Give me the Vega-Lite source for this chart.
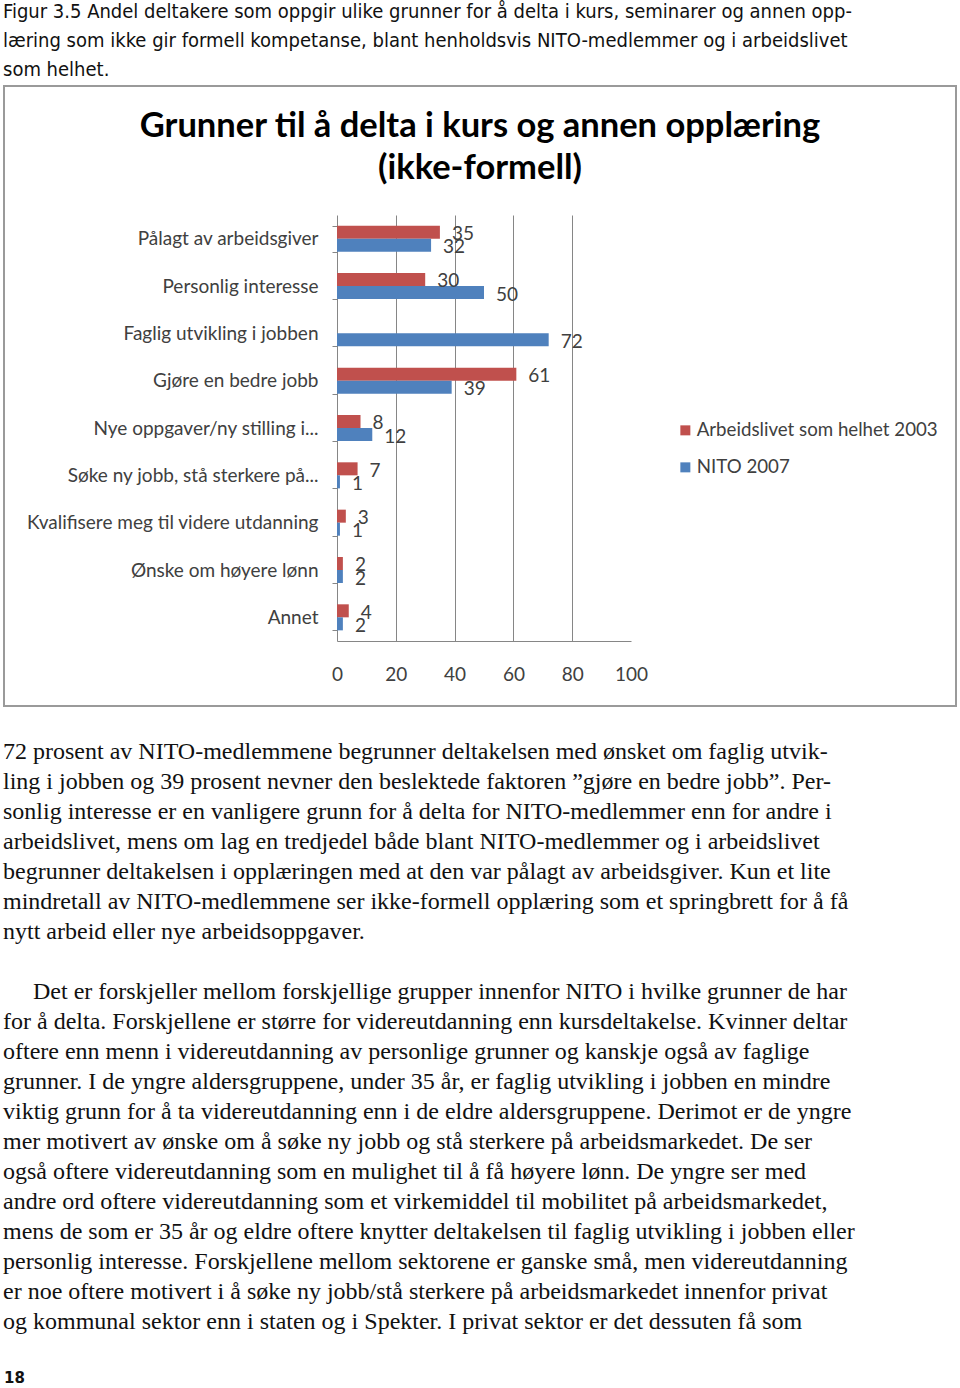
{
  "$schema": "https://vega.github.io/schema/vega-lite/v6.json",
  "padding": 0,
  "background": "white",
  "spacing": 0,
  "center": true,
  "bounds": "flush",
  "config": {"view": {"stroke": null}},
  "vconcat": [
    {
      "width": 960,
      "height": 86,
      "data": {"values": [
        {"line": 1, "text": "Figur 3.5 Andel deltakere som oppgir ulike grunner for å delta i kurs, seminarer og annen opp-"},
        {"line": 2, "text": "læring som ikke gir formell kompetanse, blant henholdsvis NITO-medlemmer og i arbeidslivet"},
        {"line": 3, "text": "som helhet."}
      ]},
      "mark": {"type": "text", "align": "left", "baseline": "alphabetic", "font": "DejaVu Sans Condensed", "fontSize": 20, "dx": 3, "color": "#111111"},
      "encoding": {
        "x": {"datum": 0, "type": "quantitative", "scale": {"domain": [0, 1], "nice": false}, "axis": null},
        "y": {"field": "line", "type": "quantitative", "scale": {"domain": [0.362, 3.328], "nice": false, "zero": false, "reverse": true}, "axis": null},
        "text": {"field": "text"}
      }
    },
    {
      "width": 952,
      "height": 620,
      "view": {"stroke": "#9a9a9a", "strokeWidth": 2, "fill": "white"},
      "title": {
        "text": ["Grunner til å delta i kurs og annen opplæring", "(ikke-formell)"],
        "font": "Lato",
        "fontSize": 34.5,
        "fontWeight": "bold",
        "color": "#000000",
        "anchor": "middle",
        "frame": "group",
        "lineHeight": 42,
        "offset": -109
      },
      "resolve": {"axis": {"x": "independent"}},
      "data": {"values": [
        {"grunn": "Pålagt av arbeidsgiver", "serie": "Arbeidslivet som helhet 2003", "verdi": 35},
        {"grunn": "Pålagt av arbeidsgiver", "serie": "NITO 2007", "verdi": 32},
        {"grunn": "Personlig interesse", "serie": "Arbeidslivet som helhet 2003", "verdi": 30},
        {"grunn": "Personlig interesse", "serie": "NITO 2007", "verdi": 50},
        {"grunn": "Faglig utvikling i jobben", "serie": "NITO 2007", "verdi": 72},
        {"grunn": "Gjøre en  bedre jobb", "serie": "Arbeidslivet som helhet 2003", "verdi": 61},
        {"grunn": "Gjøre en  bedre jobb", "serie": "NITO 2007", "verdi": 39},
        {"grunn": "Nye oppgaver/ny stilling i...", "serie": "Arbeidslivet som helhet 2003", "verdi": 8},
        {"grunn": "Nye oppgaver/ny stilling i...", "serie": "NITO 2007", "verdi": 12},
        {"grunn": "Søke ny jobb, stå sterkere på...", "serie": "Arbeidslivet som helhet 2003", "verdi": 7},
        {"grunn": "Søke ny jobb, stå sterkere på...", "serie": "NITO 2007", "verdi": 1},
        {"grunn": "Kvalifisere meg til videre utdanning", "serie": "Arbeidslivet som helhet 2003", "verdi": 3},
        {"grunn": "Kvalifisere meg til videre utdanning", "serie": "NITO 2007", "verdi": 1},
        {"grunn": "Ønske om høyere lønn", "serie": "Arbeidslivet som helhet 2003", "verdi": 2},
        {"grunn": "Ønske om høyere lønn", "serie": "NITO 2007", "verdi": 2},
        {"grunn": "Annet", "serie": "Arbeidslivet som helhet 2003", "verdi": 4},
        {"grunn": "Annet", "serie": "NITO 2007", "verdi": 2}
      ]},
      "encoding": {
        "y": {
          "field": "grunn", "type": "nominal", "sort": null,
          "scale": {"range": [129, 555], "paddingInner": 0.45, "paddingOuter": 0.225},
          "axis": {
            "title": null, "offset": -333, "tickBand": "extent", "tickSize": 5, "tickColor": "#868686",
            "domainColor": "#868686", "labelPadding": 14, "labelFont": "Lato", "labelFontSize": 19,
            "labelColor": "#404040", "labelLimit": 0, "grid": false
          }
        },
        "yOffset": {"field": "serie", "type": "nominal", "scale": {"domain": ["Arbeidslivet som helhet 2003", "NITO 2007"]}}
      },
      "layer": [
        {
          "mark": {"type": "bar"},
          "encoding": {
            "x": {
              "field": "verdi", "type": "quantitative",
              "scale": {"domain": [0, 100], "range": [333, 627], "nice": false},
              "axis": {
                "orient": "bottom", "title": null, "offset": -65, "values": [0, 20, 40, 60, 80, 100], "ticks": false, "tickSize": 0,
                "domainColor": "#868686", "labelPadding": 24, "labelFont": "Lato", "labelFontSize": 19,
                "labelColor": "#404040", "labelFlush": false, "labelOverlap": false, "grid": false
              }
            },
            "color": {
              "field": "serie", "type": "nominal",
              "scale": {"domain": ["Arbeidslivet som helhet 2003", "NITO 2007"], "range": ["#C0504D", "#4F81BD"]},
              "legend": {
                "title": null, "orient": "none", "legendX": 676, "legendY": 421, "padding": 0,
                "symbolType": "square", "symbolSize": 100, "symbolStrokeWidth": 0,
                "labelFont": "Lato", "labelFontSize": 18.7, "labelColor": "#404040",
                "labelOffset": 2, "rowPadding": 17, "labelLimit": 0
              }
            }
          }
        },
        {
          "mark": {"type": "text", "align": "left", "baseline": "middle", "dx": 12, "dy": 2, "font": "Lato", "fontSize": 19, "color": "#404040"},
          "encoding": {
            "x": {
              "field": "verdi", "type": "quantitative",
              "scale": {"domain": [0, 100], "range": [333, 627], "nice": false},
              "axis": {
                "orient": "top", "title": null, "values": [20, 40, 60, 80], "labels": false, "ticks": false,
                "domain": false, "grid": true, "gridColor": "#868686", "gridWidth": 1
              }
            },
            "text": {"field": "verdi", "type": "quantitative"}
          }
        }
      ]
    },
    {
      "width": 960,
      "height": 682,
      "data": {"values": [
        {"line": 1, "text": "72 prosent av NITO-medlemmene begrunner deltakelsen med ønsket om faglig utvik-"},
        {"line": 2, "text": "ling i jobben og 39 prosent nevner den beslektede faktoren ”gjøre en bedre jobb”. Per-"},
        {"line": 3, "text": "sonlig interesse er en vanligere grunn for å delta for NITO-medlemmer enn for andre i"},
        {"line": 4, "text": "arbeidslivet, mens om lag en tredjedel både blant NITO-medlemmer og i arbeidslivet"},
        {"line": 5, "text": "begrunner deltakelsen i opplæringen med at den var pålagt av arbeidsgiver. Kun et lite"},
        {"line": 6, "text": "mindretall av NITO-medlemmene ser ikke-formell opplæring som et springbrett for å få"},
        {"line": 7, "text": "nytt arbeid eller nye arbeidsoppgaver."},
        {"line": 9, "text": "Det er forskjeller mellom forskjellige grupper innenfor NITO i hvilke grunner de har"},
        {"line": 10, "text": "for å delta. Forskjellene er større for videreutdanning enn kursdeltakelse. Kvinner deltar"},
        {"line": 11, "text": "oftere enn menn i videreutdanning av personlige grunner og kanskje også av faglige"},
        {"line": 12, "text": "grunner. I de yngre aldersgruppene, under 35 år, er faglig utvikling i jobben en mindre"},
        {"line": 13, "text": "viktig grunn for å ta videreutdanning enn i de eldre aldersgruppene. Derimot er de yngre"},
        {"line": 14, "text": "mer motivert av ønske om å søke ny jobb og stå sterkere på arbeidsmarkedet. De ser"},
        {"line": 15, "text": "også oftere videreutdanning som en mulighet til å få høyere lønn. De yngre ser med"},
        {"line": 16, "text": "andre ord oftere videreutdanning som et virkemiddel til mobilitet på arbeidsmarkedet,"},
        {"line": 17, "text": "mens de som er 35 år og eldre oftere knytter deltakelsen til faglig utvikling i jobben eller"},
        {"line": 18, "text": "personlig interesse. Forskjellene mellom sektorene er ganske små, men videreutdanning"},
        {"line": 19, "text": "er noe oftere motivert i å søke ny jobb/stå sterkere på arbeidsmarkedet innenfor privat"},
        {"line": 20, "text": "og kommunal sektor enn i staten og i Spekter. I privat sektor er det dessuten få som"},
        {"line": 22, "text": "18"}
      ]},
      "encoding": {
        "x": {"datum": 0, "type": "quantitative", "scale": {"domain": [0, 1], "nice": false}, "axis": null},
        "y": {"field": "line", "type": "quantitative", "scale": {"domain": [-0.767, 21.967], "nice": false, "zero": false, "reverse": true}, "axis": null},
        "text": {"field": "text"}
      },
      "layer": [
        {
          "transform": [{"filter": "datum.line <= 20 && datum.line !== 9"}],
          "mark": {"type": "text", "align": "left", "baseline": "alphabetic", "font": "Liberation Serif", "fontSize": 24, "dx": 3, "color": "#111111"}
        },
        {
          "transform": [{"filter": "datum.line === 9"}],
          "mark": {"type": "text", "align": "left", "baseline": "alphabetic", "font": "Liberation Serif", "fontSize": 24, "dx": 33, "color": "#111111"}
        },
        {
          "transform": [{"filter": "datum.line === 22"}],
          "mark": {"type": "text", "align": "left", "baseline": "alphabetic", "font": "DejaVu Sans", "fontWeight": "bold", "fontSize": 15, "dx": 4, "dy": -6, "color": "#111111"}
        }
      ]
    }
  ]
}
